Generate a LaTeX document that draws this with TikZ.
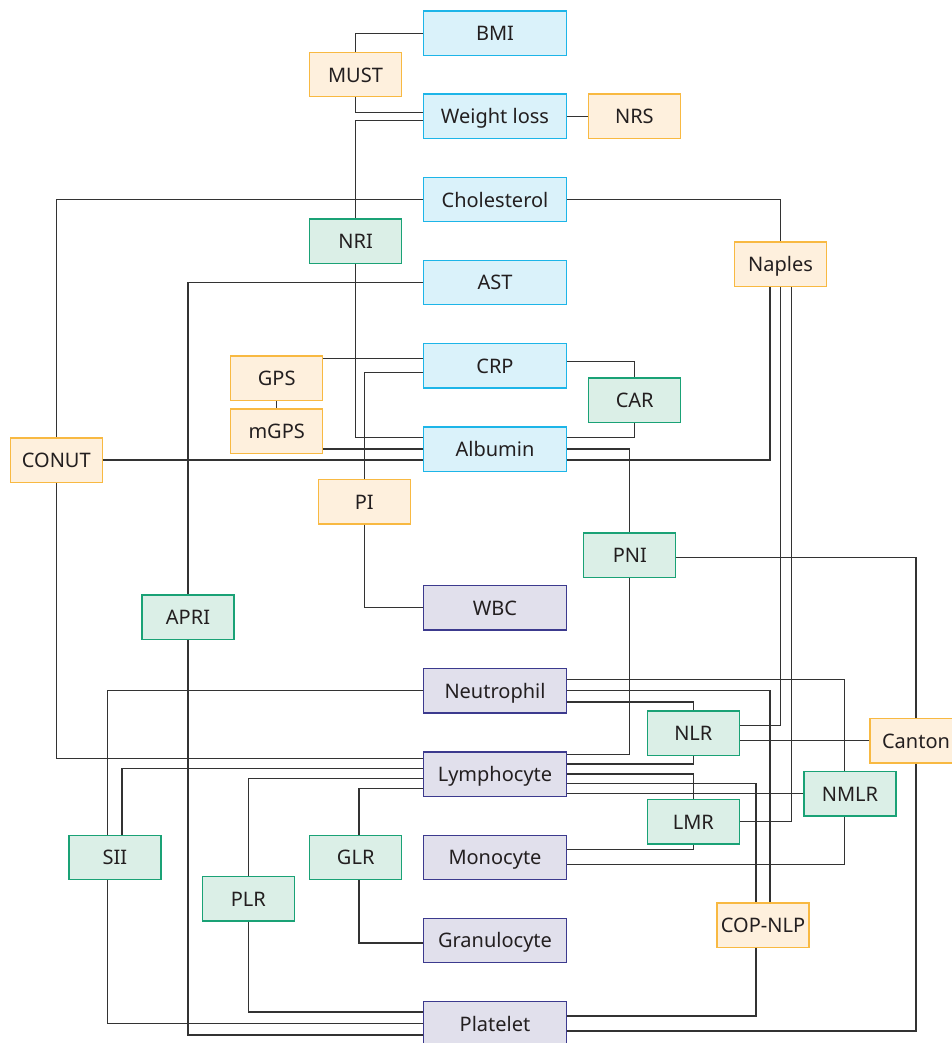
\documentclass[tikz,border=0pt]{standalone}
\usepackage{fontspec}
\setmainfont{Noto Sans}
\definecolor{bfill}{HTML}{DAF2FA}\definecolor{bdraw}{HTML}{1DB5E8}
\definecolor{ofill}{HTML}{FEF0DD}\definecolor{odraw}{HTML}{F8B942}
\definecolor{gfill}{HTML}{DBEFE7}\definecolor{gdraw}{HTML}{1AA276}
\definecolor{pfill}{HTML}{E1E0EC}\definecolor{pdraw}{HTML}{3C3A8E}
\definecolor{ink}{HTML}{231F20}\definecolor{wire}{HTML}{333333}
\tikzset{
  box/.style={draw, line width=1.3pt, minimum height=44.3pt, inner sep=0pt, text=ink,
    text height=19.5pt, text depth=4.4pt, font=\fontsize{20}{23}\selectfont},
  big/.style={box, minimum width=142.7pt},
  small/.style={box, minimum width=92pt},
  bluebox/.style={big, fill=bfill, draw=bdraw},
  purbox/.style={big, fill=pfill, draw=pdraw},
  orgbox/.style={small, fill=ofill, draw=odraw},
  grnbox/.style={small, fill=gfill, draw=gdraw},
  wirestyle/.style={draw=wire, line width=1.15pt}
}
\begin{document}
\begin{tikzpicture}[x=1pt,y=-1pt]
\useasboundingbox (0,0) rectangle (952,1043);
\clip (0,0) rectangle (952,1043);
% ---- nodes ----
\node[bluebox] (BMI)  at (495,33.3)  {BMI};
\node[bluebox] (WL)   at (495,116.3) {Weight loss};
\node[bluebox] (Chol) at (495,199.5) {Cholesterol};
\node[bluebox] (AST)  at (495,282.3) {AST};
\node[bluebox] (CRP)  at (495,365.7) {CRP};
\node[bluebox] (Alb)  at (495,449)   {Albumin};
\node[purbox] (WBC)  at (495,607.8)  {WBC};
\node[purbox] (Neu)  at (495,690.8)  {Neutrophil};
\node[purbox] (Lym)  at (495,774)    {Lymphocyte};
\node[purbox] (Mono) at (495,857.3)  {Monocyte};
\node[purbox] (Gran) at (495,940.3)  {Granulocyte};
\node[purbox] (Plat) at (495,1023.5) {Platelet};
\node[orgbox] (MUST)   at (355.5,74.5)  {MUST};
\node[orgbox] (NRS)    at (634.4,116.3) {NRS};
\node[grnbox] (NRI)    at (355.7,241)   {NRI};
\node[orgbox] (Naples) at (780.5,264)   {Naples};
\node[orgbox] (GPS)    at (276.7,378.2) {GPS};
\node[orgbox] (mGPS)   at (276.7,431)   {mGPS};
\node[grnbox] (CAR)    at (634.7,400)   {CAR};
\node[orgbox] (CONUT)  at (56.3,460)    {CONUT};
\node[orgbox] (PI)     at (364.2,501.7) {PI};
\node[grnbox] (PNI)    at (629.8,555)   {PNI};
\node[grnbox] (APRI)   at (188,617.2)   {APRI};
\node[grnbox] (NLR)    at (693.3,733.2) {NLR};
\node[orgbox] (Canton) at (916,740.7)   {Canton};
\node[grnbox] (NMLR)   at (850,793.8)   {NMLR};
\node[grnbox] (LMR)    at (693.3,821.7) {LMR};
\node[orgbox] (COP)    at (763,925)     {COP-NLP};
\node[grnbox] (SII)    at (115,857.3)   {SII};
\node[grnbox] (PLR)    at (248.3,898.8) {PLR};
\node[grnbox] (GLR)    at (355.7,857.3) {GLR};
% ---- connectors ----
\begin{scope}[every path/.append style={wirestyle}]
\draw (MUST.north) |- (BMI.west);
\draw (MUST.south) |- ([yshift=3.6pt]WL.west);
\draw ([yshift=-4.4pt]WL.west) -| (NRI.north);
\draw (WL.east) -- (NRS.west);
\draw (Chol.west) -| (CONUT.north);
\draw (Chol.east) -| (Naples.north);
\draw (NRI.south) |- ([yshift=11.7pt]Alb.west);
\draw (AST.west) -| (APRI.north);
\draw ([yshift=7.4pt]CRP.west) -- ([yshift=7.4pt]CRP.west -| GPS.east);
\draw (GPS.south) -- (mGPS.north);
\draw ([yshift=-7pt]CRP.west) -| (PI.north);
\draw (Alb.west) -- (Alb.west -| mGPS.east);
\draw (CONUT.east) -- (CONUT.east -| Alb.west);
\draw ([yshift=4pt]CRP.east) -| (CAR.north);
\draw (CAR.south) |- ([yshift=11.7pt]Alb.east);
\draw (Alb.east) -| (PNI.north);
\draw ([yshift=-11pt]Alb.east) -| ([xshift=-10.5pt]Naples.south);
\draw (Naples.south) |- ([yshift=7.5pt]NLR.east);
\draw ([xshift=10.8pt]Naples.south) |- (LMR.east);
\draw ([yshift=-2.7pt]PNI.east) -| (Canton.north);
\draw (PI.south) |- (WBC.west);
\draw (PNI.south) |- ([yshift=19.7pt]Lym.east);
\draw (APRI.south) |- ([yshift=-11.5pt]Plat.west);
\draw (Neu.west) -| ([xshift=-7.3pt]SII.north);
\draw (CONUT.south) |- ([yshift=15.7pt]Lym.west);
\draw ([yshift=5.3pt]Lym.west) -| ([xshift=7pt]SII.north);
\draw ([yshift=-4.7pt]Lym.west) -| (PLR.north);
\draw ([yshift=-14.7pt]Lym.west) -| ([xshift=3.3pt]GLR.north);
\draw ([xshift=3.3pt]GLR.south) |- ([yshift=-2.7pt]Gran.west);
\draw (PLR.south) |- ([yshift=11.5pt]Plat.west);
\draw ([xshift=-7.3pt]SII.south) |- (Plat.west);
\draw ([yshift=11.1pt]Neu.east) -| ([xshift=-5.3pt]NMLR.north);
\draw (Neu.east) -| ([xshift=7pt]COP.north);
\draw ([yshift=-11.2pt]Neu.east) -| (NLR.north);
\draw (Canton.west) -- (Canton.west -| NLR.east);
\draw ([yshift=10pt]Lym.east) -| (NLR.south);
\draw (Lym.east) -| (LMR.north);
\draw ([yshift=-9.7pt]Lym.east) -| ([xshift=-7pt]COP.north);
\draw (NMLR.west) -- (NMLR.west -| Lym.east);
\draw ([yshift=8pt]Mono.east) -| (LMR.south);
\draw ([yshift=-7.4pt]Mono.east) -| ([xshift=-5.3pt]NMLR.south);
\draw ([xshift=-7pt]COP.south) |- ([yshift=7.5pt]Plat.east);
\draw (Canton.south) |- ([yshift=-7.5pt]Plat.east);
\end{scope}
\end{tikzpicture}
\end{document}
